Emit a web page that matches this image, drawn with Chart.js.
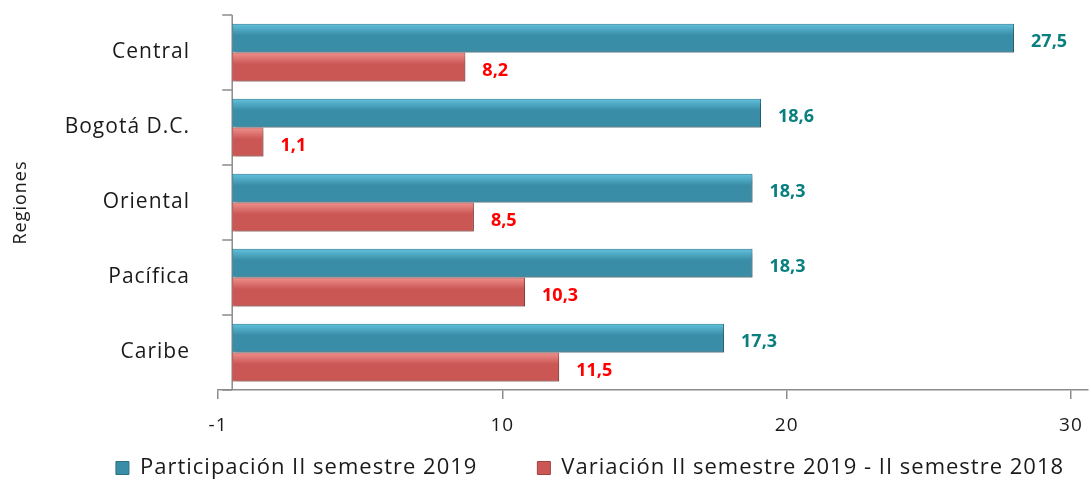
<!DOCTYPE html>
<html>
<head>
<meta charset="utf-8">
<script src="https://cdn.jsdelivr.net/npm/chart.js@4.4.1/dist/chart.umd.min.js"></script>
<style>
  html, body { margin: 0; padding: 0; background: #fff; }
</style>
</head>
<body>
<canvas id="regionChart" width="1091" height="482"></canvas>
<script>
// datos
const regiones = ['Central', 'Bogotá D.C.', 'Oriental', 'Pacífica', 'Caribe'];
const participacion = [27.5, 18.6, 18.3, 18.3, 17.3];
const variacion = [8.2, 1.1, 8.5, 10.3, 11.5];
const xTickValues = [-0.5, 9.5, 19.5, 29.5];
const xTickLabels = ['-1', '10', '20', '30'];

function fmt(v) {
    return v.toFixed(1).replace('.', ',');
}

// espaciado de letras como en el original
const espaciado = {
    id: 'espaciado',
    beforeLayout(chart) { chart.ctx.letterSpacing = '1px'; },
    beforeDraw(chart) { chart.ctx.letterSpacing = '1px'; }
};

// eje vertical en el cero + sombra y brillo de las barras + etiquetas
const barras3d = {
    id: 'barras3d',
    beforeDatasetsDraw(chart) {
        const { ctx, chartArea, scales: { x, y } } = chart;
        const x0 = x.getPixelForValue(0);
        const paso = y.getPixelForValue(1) - y.getPixelForValue(0);
        ctx.save();
        ctx.strokeStyle = '#8c8c8c';
        ctx.lineWidth = 1.5;
        ctx.beginPath();
        ctx.moveTo(x0, chartArea.top);
        ctx.lineTo(x0, chartArea.bottom);
        for (let i = 0; i <= regiones.length; i++) {
            const yy = y.getPixelForValue(0) - paso / 2 + i * paso;
            ctx.moveTo(x0 - 10, yy);
            ctx.lineTo(x0, yy);
        }
        ctx.stroke();
        ctx.restore();

        ctx.save();
        ctx.shadowColor = 'rgba(0,0,0,0.3)';
        ctx.shadowBlur = 4;
        ctx.shadowOffsetX = 2;
        ctx.shadowOffsetY = 3;
    },
    afterDatasetsDraw(chart) {
        const ctx = chart.ctx;
        ctx.restore();
        chart.data.datasets.forEach((ds, i) => {
            chart.getDatasetMeta(i).data.forEach((bar, j) => {
                const p = bar.getProps(['x', 'y', 'base', 'height'], true);
                const top = p.y - p.height / 2;
                const g = ctx.createLinearGradient(0, top, 0, top + p.height * 0.4);
                g.addColorStop(0, ds.brillo);
                g.addColorStop(1, ds.backgroundColor);
                ctx.save();
                ctx.fillStyle = g;
                ctx.fillRect(p.base + 1, top + 1, p.x - p.base - 2, p.height * 0.4);
                ctx.letterSpacing = '0px';
                ctx.fillStyle = ds.colorEtiqueta;
                ctx.font = 'bold 18px "Open Sans"';
                ctx.textAlign = 'left';
                ctx.textBaseline = 'middle';
                ctx.fillText(fmt(ds.data[j]), p.x + 17, p.y + 4);
                ctx.restore();
            });
        });
    }
};

// mover la leyenda a su sitio (la caja sigue llegando hasta abajo)
const leyendaPos = {
    id: 'leyendaPos',
    afterLayout(chart) {
        const lg = chart.legend;
        const dx = 46, dy = -45;
        lg.left += dx; lg.right += dx;
        lg.top += dy;
    }
};

function sinRelleno(s) {
    s.paddingLeft = 0; s.paddingRight = 0;
    s.paddingTop = 0; s.paddingBottom = 0;
}

Chart.defaults.font.family = '"Open Sans", sans-serif';
Chart.defaults.color = '#1a1a1a';

new Chart(document.getElementById('regionChart'), {
    type: 'bar',
    data: {
        labels: regiones,
        datasets: [{
            label: 'Participación II semestre 2019',
            data: participacion,
            backgroundColor: '#3a8da7',
            borderColor: '#2b6e83',
            brillo: '#63c3de',
            colorEtiqueta: '#0a7f7f',
            borderWidth: 1,
            categoryPercentage: 0.77,
            barPercentage: 1.0
        }, {
            label: 'Variación II semestre 2019 - II semestre 2018',
            data: variacion,
            backgroundColor: '#cb5755',
            borderColor: '#a54240',
            brillo: '#f0918d',
            colorEtiqueta: '#ff0000',
            borderWidth: 1,
            categoryPercentage: 0.77,
            barPercentage: 1.0
        }]
    },
    options: {
        indexAxis: 'y',
        responsive: false,
        animation: false,
        layout: { padding: { top: 15, right: 3, left: 0, bottom: 0 } },
        plugins: {
            tooltip: { enabled: false },
            legend: {
                position: 'bottom',
                maxHeight: 40,
                labels: {
                    boxWidth: 13,
                    boxHeight: 13,
                    padding: 60,
                    font: { size: 22 },
                    color: '#1a1a1a'
                }
            }
        },
        scales: {
            x: {
                type: 'linear',
                min: -0.5,
                max: 30.1,
                afterBuildTicks: s => { s.ticks = xTickValues.map(v => ({ value: v })); },
                ticks: {
                    callback: (v, i) => xTickLabels[i],
                    font: { size: 19 },
                    padding: 15,
                    maxRotation: 0,
                    autoSkip: false
                },
                grid: { drawOnChartArea: false, drawTicks: true, tickLength: 9, color: '#8c8c8c', lineWidth: 1.5 },
                border: { display: true, color: '#8c8c8c', width: 1.5 },
                afterFit: s => { s.height = 52; sinRelleno(s); }
            },
            y: {
                grid: { display: true, drawOnChartArea: false, drawTicks: true, tickLength: 24, color: 'rgba(0,0,0,0)' },
                border: { display: false },
                ticks: { font: { size: 21 }, padding: 4 },
                title: { display: true, text: 'Regiones', font: { size: 18 }, padding: { top: 10, bottom: 0 } },
                afterFit: s => { s.width = 218; sinRelleno(s); }
            }
        }
    },
    plugins: [espaciado, barras3d, leyendaPos]
});
</script>
</body>
</html>
